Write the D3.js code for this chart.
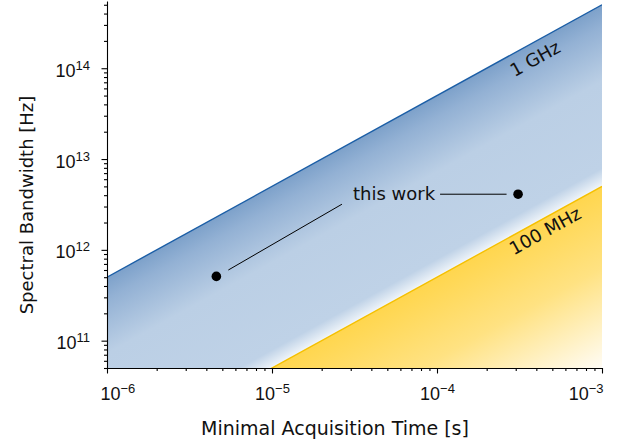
<!DOCTYPE html>
<html>
<head>
<meta charset="utf-8">
<script src="https://cdn.jsdelivr.net/npm/d3@7"></script>
<style>
  body { margin: 0; background: #fff; }
  svg { display: block; font-family: "DejaVu Sans", Verdana, sans-serif; }
</style>
</head>
<body>
<div id="chart"></div>
<script>
// values
const timeDomain = [1e-6, 1e-3];          // s
const bandwidthDomain = [5e10, 5.5e14];   // Hz
const timeTicks = [1e-6, 1e-5, 1e-4, 1e-3];
const timeTickExponents = ["\u22126", "\u22125", "\u22124", "\u22123"];
const bandwidthTicks = [1e11, 1e12, 1e13, 1e14];
const bandwidthTickExponents = ["11", "12", "13", "14"];
const limitLabels = ["1 GHz", "100 MHz"];
const limitProducts = [5e17, 5e15];       // bandwidth = product * time
const workTimes = [4.6e-6, 3.1e-4];
const workBandwidths = [5.1e11, 4.1e12];

const width = 618;
const height = 444;
const margin = { top: 1, left: 107, bottom: 76, right: 16 };

const font = { size: 18, title: 19, sup: 13, supShift: -7 };
const colors = {
  upper: "#1b5ea6",
  lower: "#f5c000",
  text: "#111"
};

const svg = d3
  .select("#chart")
  .append("svg")
  .attr("width", width)
  .attr("height", height);

const x = d3
  .scaleLog()
  .domain(timeDomain)
  .range([margin.left, width - margin.right]);

const y = d3
  .scaleLog()
  .domain(bandwidthDomain)
  .range([height - margin.bottom, margin.top]);

const x0 = x.range()[0];
const x1 = x.range()[1];
const yBottom = y.range()[0];

// pixel geometry of the two limit lines
function limitPoint(k, t) {
  return [x(t), y(limitProducts[k] * t)];
}
const pA = limitPoint(0, timeDomain[0]);
const pB = limitPoint(0, timeDomain[1]);
const len = Math.hypot(pB[0] - pA[0], pB[1] - pA[1]);
const dir = [(pB[0] - pA[0]) / len, (pB[1] - pA[1]) / len];
const normal = [-dir[1], dir[0]];
const angle = (Math.atan2(dir[1], dir[0]) * 180) / Math.PI;

const qA = limitPoint(1, timeDomain[0]);
const gap = (qA[0] - pA[0]) * normal[0] + (qA[1] - pA[1]) * normal[1];
const cornerDist = (x1 - qA[0]) * normal[0] + (yBottom - qA[1]) * normal[1];

// gradients, perpendicular to the limit lines
const defs = svg.append("defs");

defs
  .append("clipPath")
  .attr("id", "plot-clip")
  .append("rect")
  .attr("x", x0)
  .attr("y", 0)
  .attr("width", x1 - x0)
  .attr("height", yBottom);

const blueGrad = defs
  .append("linearGradient")
  .attr("id", "blue-grad")
  .attr("gradientUnits", "userSpaceOnUse")
  .attr("x1", pA[0])
  .attr("y1", pA[1])
  .attr("x2", pA[0] + normal[0] * gap)
  .attr("y2", pA[1] + normal[1] * gap);
[
  [0, "#7da1ca"],
  [0.12, "#93b1d4"],
  [0.42, "#bbcfe5"],
  [0.9, "#bfd2e7"],
  [0.985, "#e9f0f7"],
  [1, "#f4f7fb"]
].forEach(function(s) {
  blueGrad.append("stop").attr("offset", s[0]).attr("stop-color", s[1]);
});

const yellowGrad = defs
  .append("linearGradient")
  .attr("id", "yellow-grad")
  .attr("gradientUnits", "userSpaceOnUse")
  .attr("x1", qA[0])
  .attr("y1", qA[1])
  .attr("x2", qA[0] + normal[0] * cornerDist)
  .attr("y2", qA[1] + normal[1] * cornerDist);
[
  [0, "#ffd64e"],
  [0.45, "#ffe282"],
  [1, "#fffcf5"]
].forEach(function(s) {
  yellowGrad.append("stop").attr("offset", s[0]).attr("stop-color", s[1]);
});

// shaded regions
const plot = svg.append("g").attr("clip-path", "url(#plot-clip)");

plot
  .append("path")
  .attr("d", d3.line()([[x0, yBottom], pA, pB, [x1, yBottom]]))
  .attr("fill", "url(#blue-grad)");

const qStart = limitPoint(1, bandwidthDomain[0] / limitProducts[1]);
const qEnd = limitPoint(1, timeDomain[1]);
plot
  .append("path")
  .attr("d", d3.line()([qStart, qEnd, [x1, yBottom]]))
  .attr("fill", "url(#yellow-grad)");

// limit lines
[colors.upper, colors.lower].forEach(function(c, k) {
  plot
    .append("line")
    .attr("x1", limitPoint(k, timeDomain[0])[0])
    .attr("y1", limitPoint(k, timeDomain[0])[1])
    .attr("x2", limitPoint(k, timeDomain[1])[0])
    .attr("y2", limitPoint(k, timeDomain[1])[1])
    .attr("stroke", c)
    .attr("stroke-width", 1.4);
});

// limit labels, set below each line
const labelPlace = [
  { px: 535, below: 17 },
  { px: 545, below: 13 }
];
limitLabels.forEach(function(label, k) {
  const t = x.invert(labelPlace[k].px);
  const p = limitPoint(k, t);
  svg
    .append("text")
    .attr("transform", "translate(" + p[0] + "," + (p[1] + labelPlace[k].below) + ") rotate(" + angle + ")")
    .attr("text-anchor", "middle")
    .attr("dy", "0.36em")
    .attr("font-size", font.size)
    .attr("fill", colors.text)
    .text(label);
});

// axes: minor ticks first, then majors with labels
function supLabels(sel, exps) {
  sel.selectAll(".tick text").each(function(d, i) {
    const t = d3.select(this);
    t.text(null);
    t.append("tspan").text("10");
    t.append("tspan")
      .attr("dy", font.supShift)
      .attr("font-size", font.sup)
      .text(exps[i]);
  });
}

const minorX = x.ticks().filter(function(d) {
  return timeTicks.indexOf(d) < 0;
});
const minorY = y.ticks().filter(function(d) {
  return bandwidthTicks.indexOf(d) < 0;
});

const xAxisG = svg.append("g").attr("transform", "translate(0," + yBottom + ")");
xAxisG
  .append("g")
  .call(d3.axisBottom(x).tickValues(minorX).tickSize(3).tickFormat(""))
  .call(function(g) { g.select(".domain").remove(); });
const xMajor = xAxisG
  .append("g")
  .call(d3.axisBottom(x).tickValues(timeTicks).tickSize(5.5).tickSizeOuter(0).tickFormat(function() { return "x"; }));
xMajor
  .selectAll(".tick text")
  .attr("y", 31.5)
  .attr("dy", null)
  .attr("font-size", font.size)
  .attr("font-family", null)
  .attr("fill", colors.text)
  .attr("text-anchor", function(d, i) {
    return i == 0 ? "start" : i == timeTicks.length - 1 ? "end" : "middle";
  })
  .attr("x", function(d, i) {
    return i == 0 ? -7 : i == timeTicks.length - 1 ? 1 : 0;
  });
supLabels(xMajor, timeTickExponents);

const yAxisG = svg.append("g").attr("transform", "translate(" + x0 + ",0)");
yAxisG
  .append("g")
  .call(d3.axisLeft(y).tickValues(minorY).tickSize(3).tickFormat(""))
  .call(function(g) { g.select(".domain").remove(); });
const yMajor = yAxisG
  .append("g")
  .call(d3.axisLeft(y).tickValues(bandwidthTicks).tickSize(5.5).tickSizeOuter(0).tickFormat(function() { return "x"; }));
yMajor
  .selectAll(".tick text")
  .attr("x", -17)
  .attr("y", 8)
  .attr("dy", null)
  .attr("font-size", font.size)
  .attr("font-family", null)
  .attr("fill", colors.text);
supLabels(yMajor, bandwidthTickExponents);

svg.selectAll(".domain, .tick line").attr("stroke", "#000").attr("stroke-width", 1.1);

// axis titles
svg
  .append("text")
  .attr("x", 335)
  .attr("y", 435)
  .attr("text-anchor", "middle")
  .attr("font-size", font.title)
  .attr("fill", colors.text)
  .text("Minimal Acquisition Time [s]");

svg
  .append("text")
  .attr("transform", "translate(33,205) rotate(-90)")
  .attr("text-anchor", "middle")
  .attr("font-size", font.size)
  .attr("fill", colors.text)
  .text("Spectral Bandwidth [Hz]");

// "this work" points and pointer lines
const dots = workTimes.map(function(t, i) {
  return [x(t), y(workBandwidths[i])];
});

const workText = svg
  .append("text")
  .attr("x", dots[1][0] - 83)
  .attr("y", dots[1][1] + 6)
  .attr("text-anchor", "end")
  .attr("font-size", font.size)
  .attr("fill", colors.text)
  .text("this work");
const textStart = dots[1][0] - 83 - workText.node().getComputedTextLength();

svg
  .append("line")
  .attr("x1", dots[1][0] - 78)
  .attr("y1", dots[1][1])
  .attr("x2", dots[1][0] - 11.5)
  .attr("y2", dots[1][1])
  .attr("stroke", "#000")
  .attr("stroke-width", 1);

svg
  .append("line")
  .attr("x1", dots[0][0] + 12)
  .attr("y1", dots[0][1] - 6.4)
  .attr("x2", textStart - 11)
  .attr("y2", dots[1][1] + 10)
  .attr("stroke", "#000")
  .attr("stroke-width", 1);

svg
  .selectAll(".work-dot")
  .data(dots)
  .enter()
  .append("circle")
  .attr("class", "work-dot")
  .attr("cx", function(d) { return d[0]; })
  .attr("cy", function(d) { return d[1]; })
  .attr("r", 4.8)
  .attr("fill", "#000");
</script>
</body>
</html>
